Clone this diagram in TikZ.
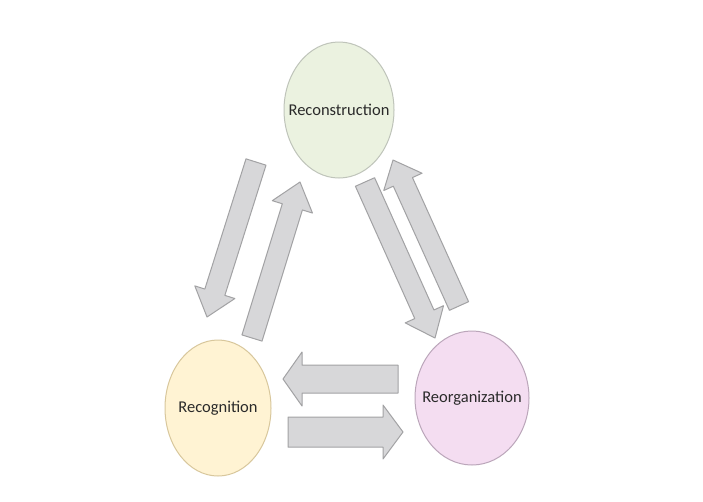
\documentclass[tikz,border=0pt]{standalone}
\usepackage{fontspec}
\setmainfont{Carlito}
\usetikzlibrary{calc,shapes.geometric}
\definecolor{gfill}{HTML}{EBF2E0}
\definecolor{yfill}{HTML}{FFF3D3}
\definecolor{pfill}{HTML}{F4DDF1}
\definecolor{gline}{HTML}{BFC4BA}
\definecolor{yline}{HTML}{D8C79C}
\definecolor{pline}{HTML}{BBA6BA}
\definecolor{afill}{HTML}{D7D7D9}
\definecolor{aline}{HTML}{A2A2A4}
\definecolor{txt}{HTML}{2A2A2A}
\tikzset{
  circ/.style={ellipse, draw, line width=1pt, inner sep=0pt},
  lbl/.style={text=txt, inner sep=0pt, font=\fontsize{16.5}{19}\selectfont},
  blk/.style={fill=afill, draw=aline, line width=1pt, line join=round}
}
\newcommand{\blockarrow}[5]{%
  \coordinate (hb) at ($(#2)!#5!(#1)$);
  \draw[blk] ($(#1)!#3!90:(#2)$) -- ($(hb)!#3!90:(#2)$) -- ($(hb)!#4!90:(#2)$)
    -- (#2) -- ($(hb)!#4!-90:(#2)$) -- ($(hb)!#3!-90:(#2)$) -- ($(#1)!#3!-90:(#2)$) -- cycle;
}
\begin{document}
\begin{tikzpicture}[x=1pt,y=-1pt]
\useasboundingbox[fill=white] (0,0) rectangle (703,501);
\node[circ, fill=gfill, draw=gline, minimum width=110pt, minimum height=136pt] (rec) at (339,110) {};
\node[circ, fill=yfill, draw=yline, minimum width=106pt, minimum height=136pt] (rcg) at (218,408) {};
\node[circ, fill=pfill, draw=pline, minimum width=114pt, minimum height=134pt] (reo) at (472,398) {};
\node[lbl] (recl) at (rec.center) {Reconstruction};
\node[lbl] (rcgl) at (rcg.center) {Recognition};
\node[lbl] (reol) at (reo.center) {Reorganization};
% left pair
\coordinate (a1t) at (256,162); \coordinate (a1h) at (207,317);
\coordinate (a2t) at (252,338); \coordinate (a2h) at (300,182);
% right pair
\coordinate (a3t) at (365,182); \coordinate (a3h) at (435,338);
\coordinate (a4t) at (459,306); \coordinate (a4h) at (393,160);
% bottom pair
\coordinate (a5t) at (398,379); \coordinate (a5h) at (283,379);
\coordinate (a6t) at (288,432); \coordinate (a6h) at (403,432);
\blockarrow{a1t}{a1h}{10.5pt}{21pt}{26pt}
\blockarrow{a2t}{a2h}{10.5pt}{21pt}{26pt}
\blockarrow{a3t}{a3h}{10.5pt}{21pt}{26pt}
\blockarrow{a4t}{a4h}{10.5pt}{21pt}{24pt}
\blockarrow{a5t}{a5h}{14pt}{27pt}{19pt}
\blockarrow{a6t}{a6h}{15pt}{27pt}{20pt}
\end{tikzpicture}
\end{document}
